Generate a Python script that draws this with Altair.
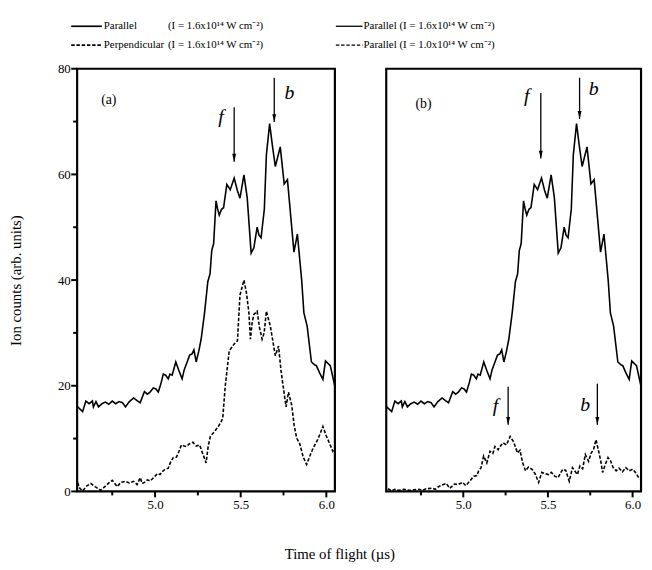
import altair as alt
import pandas as pd

# ---------------- data ----------------
t_par = [4.548, 4.577, 4.596, 4.615, 4.634, 4.640, 4.655, 4.670, 4.690, 4.710,
         4.730, 4.750, 4.770, 4.790, 4.810, 4.827, 4.850, 4.875, 4.895, 4.913,
         4.938, 4.955, 4.971, 4.990, 5.005, 5.019, 5.035, 5.048, 5.062, 5.077,
         5.087, 5.100, 5.121, 5.140, 5.158, 5.170, 5.183, 5.202, 5.215, 5.227,
         5.240, 5.255, 5.269, 5.289, 5.308, 5.321, 5.331, 5.342, 5.356, 5.365,
         5.375, 5.388, 5.400, 5.419, 5.439, 5.462, 5.480, 5.496, 5.519, 5.538,
         5.561, 5.577, 5.596, 5.607, 5.619, 5.638, 5.650, 5.669, 5.685, 5.702,
         5.731, 5.754, 5.773, 5.811, 5.831, 5.856, 5.869, 5.888, 5.913, 5.930,
         5.942, 5.960, 5.980, 5.995, 6.023, 6.050]
y_par = [16.0, 15.1, 17.1, 16.6, 17.1, 16.0, 17.0, 16.0, 16.6, 16.9,
         16.5, 17.1, 16.6, 17.0, 16.8, 16.0, 17.0, 17.7, 17.2, 16.8,
         18.9, 18.4, 18.8, 19.6, 19.4, 18.8, 20.5, 22.2, 22.0, 21.3,
         22.2, 22.0, 24.5, 22.8, 21.3, 23.0, 24.1, 25.8, 26.0, 26.8,
         24.5, 26.5, 28.8, 33.8, 39.7, 41.2, 45.6, 46.9, 55.0, 53.5,
         52.3, 53.4, 53.7, 58.1, 57.1, 59.3, 57.0, 55.5, 59.9, 55.6,
         45.1, 46.1, 50.0, 48.5, 48.0, 53.4, 63.7, 69.6, 65.5, 61.5,
         65.2, 58.2, 59.0, 45.3, 48.7, 40.0, 33.8, 31.3, 24.5, 24.0,
         23.8, 22.5, 21.2, 24.7, 23.8, 19.9]

t_perp = [4.548, 4.560, 4.577, 4.600, 4.625, 4.650, 4.683, 4.710, 4.730, 4.750,
          4.765, 4.779, 4.800, 4.827, 4.850, 4.875, 4.895, 4.913, 4.925, 4.938,
          4.955, 4.971, 4.985, 5.000, 5.015, 5.029, 5.050, 5.077, 5.090, 5.106,
          5.125, 5.140, 5.154, 5.170, 5.183, 5.200, 5.221, 5.240, 5.260, 5.298,
          5.310, 5.323, 5.346, 5.370, 5.384, 5.395, 5.410, 5.433, 5.462, 5.481,
          5.496, 5.519, 5.534, 5.548, 5.557, 5.567, 5.577, 5.596, 5.610, 5.625,
          5.637, 5.650, 5.673, 5.702, 5.721, 5.735, 5.750, 5.765, 5.779, 5.798,
          5.812, 5.827, 5.845, 5.865, 5.885, 5.905, 5.923, 5.945, 5.965, 5.980,
          6.000, 6.020, 6.038, 6.050]
y_perp = [1.7, 0.6, 0.1, 1.0, 1.5, 0.9, 0.2, 1.0, 1.6, 2.1,
          1.5, 0.9, 1.7, 1.9, 1.6, 1.9, 1.3, 2.6, 1.5, 1.7,
          2.2, 2.0, 2.4, 2.9, 3.4, 3.2, 4.0, 4.4, 5.5, 6.4,
          6.5, 7.6, 8.8, 8.6, 8.5, 9.0, 9.3, 8.6, 8.8, 5.4,
          8.5, 10.4, 11.3, 12.3, 13.1, 13.8, 20.0, 26.6, 27.9, 28.5,
          37.2, 40.0, 37.5, 33.8, 28.8, 32.0, 33.5, 34.1, 31.0, 28.8,
          30.0, 34.1, 31.3, 25.7, 27.5, 23.0, 19.4, 16.0, 18.8, 16.3,
          12.5, 10.1, 9.0, 6.5, 5.1, 6.8, 8.2, 9.5, 11.0, 12.3,
          10.5, 9.0, 7.6, 8.2]

t_low = [4.555, 4.576, 4.595, 4.620, 4.650, 4.680, 4.710, 4.738, 4.760, 4.780,
         4.815, 4.835, 4.853, 4.875, 4.900, 4.920, 4.935, 4.948, 4.970, 4.996,
         5.015, 5.040, 5.063, 5.080, 5.091, 5.105, 5.120, 5.139, 5.158, 5.175,
         5.187, 5.206, 5.220, 5.235, 5.255, 5.277, 5.295, 5.305, 5.320, 5.335,
         5.350, 5.368, 5.385, 5.406, 5.425, 5.445, 5.464, 5.480, 5.502, 5.520,
         5.540, 5.560, 5.575, 5.588, 5.605, 5.626, 5.645, 5.660, 5.674, 5.689,
         5.705, 5.721, 5.740, 5.755, 5.770, 5.784, 5.800, 5.812, 5.823, 5.840,
         5.855, 5.870, 5.885, 5.903, 5.920, 5.940, 5.960, 5.980, 6.000, 6.017,
         6.036, 6.045]
y_low = [0.5, 0.1, 0.4, 0.2, 0.4, 0.2, 0.3, 0.4, 0.2, 0.5,
         0.6, 0.4, 0.9, 1.2, 1.5, 0.6, 1.0, 1.4, 1.3, 1.7,
         1.1, 2.0, 2.9, 3.0, 3.9, 4.5, 6.7, 5.4, 7.6, 7.2,
         8.5, 7.9, 8.6, 9.2, 8.8, 10.4, 9.5, 8.7, 7.3, 7.8,
         5.5, 3.9, 4.6, 4.2, 3.3, 1.7, 3.6, 3.4, 3.2, 3.6,
         2.9, 2.6, 3.5, 4.2, 4.0, 1.9, 4.5, 3.8, 3.2, 4.8,
         4.3, 7.0, 5.7, 7.2, 8.0, 9.8, 7.5, 5.8, 3.6, 5.2,
         6.4, 5.8, 4.5, 3.9, 4.4, 3.7, 4.5, 3.9, 4.2, 3.6,
         2.6, 2.4]

arrows_a_t = [5.462, 5.696]
arrows_a_top = [72.7, 78.3]
arrows_a_tip = [62.4, 69.9]
labels_a_t = [5.385, 5.785, 4.73]
labels_a_y = [70.8, 75.3, 74.0]
labels_a_txt = ["f", "b", "(a)"]

arrows_b_t = [5.458, 5.687, 5.265, 5.792]
arrows_b_top = [75.4, 78.3, 19.8, 20.4]
arrows_b_tip = [63.0, 70.5, 12.6, 12.6]
labels_b_t = [5.375, 5.77, 5.19, 5.72, 4.765]
labels_b_y = [74.8, 76.2, 16.2, 16.4, 73.3]
labels_b_txt = ["f", "b", "f", "b", "(b)"]

x_major = [5.0, 5.5, 6.0]
x_minor = [4.75, 5.25, 5.75]
y_major = [0, 20, 40, 60, 80]
y_minor = [10, 30, 50, 70]
X_DOMAIN = [4.545, 6.05]
Y_DOMAIN = [0, 80]

leg_a_names = ["Parallel", "Perpendicular"]
leg_a_cond = ["(I = 1.6x10\u00b9\u2074 W cm\u207b\u00b2)", "(I = 1.6x10\u00b9\u2074 W cm\u207b\u00b2)"]
leg_b_names = ["Parallel (I = 1.6x10\u00b9\u2074 W cm\u207b\u00b2)",
               "Parallel (I = 1.0x10\u00b9\u2074 W cm\u207b\u00b2)"]

FONT = "Liberation Serif"
H = 428
DASH = [3.5, 1.8]
LEG_FS = 11
LW = 1.6
FRAME_W = 2.2
TICK_W = 2.0


def rule_value(**enc):
    return alt.Chart(pd.DataFrame({"k": [0]})).mark_rule(
        color="black", strokeWidth=FRAME_W).encode(**enc)


def panel(width, curves, arr_t, arr_top, arr_tip, lab_t, lab_y, lab_txt,
          show_y, legend):
    xs = alt.Scale(domain=X_DOMAIN, nice=False, zero=False)
    ys = alt.Scale(domain=Y_DOMAIN, nice=False, zero=False)
    xaxis = alt.Axis(values=x_major, format=".1f", title=None, grid=False,
                     domain=False, ticks=False, labelFont=FONT,
                     labelFontSize=13, labelColor="black", labelPadding=7)
    if show_y:
        yaxis = alt.Axis(values=y_major, title="Ion counts (arb. units)",
                         grid=False, domain=False, ticks=False,
                         labelFont=FONT, labelFontSize=13, labelColor="black",
                         labelPadding=7, titleFont=FONT, titleFontSize=15,
                         titleFontWeight="normal", titleColor="black",
                         titlePadding=34)
    else:
        yaxis = None
    layers = []
    first = True
    for tt, yy, dashed in curves:
        df = pd.DataFrame({"t": tt, "y": yy})
        mk = dict(color="black", strokeWidth=LW, clip=True)
        if dashed:
            mk["strokeDash"] = DASH
        if first:
            enc = dict(x=alt.X("t:Q", scale=xs, axis=xaxis),
                       y=alt.Y("y:Q", scale=ys, axis=yaxis))
        else:
            enc = dict(x=alt.X("t:Q"), y=alt.Y("y:Q"))
        layers.append(alt.Chart(df).mark_line(**mk).encode(**enc))
        first = False
    # frame
    layers.append(rule_value(x=alt.value(-1), x2=alt.value(width + 1), y=alt.value(0)))
    layers.append(rule_value(x=alt.value(-1), x2=alt.value(width + 1), y=alt.value(H)))
    layers.append(rule_value(y=alt.value(0), y2=alt.value(H), x=alt.value(0)))
    layers.append(rule_value(y=alt.value(0), y2=alt.value(H), x=alt.value(width)))
    # x ticks: major and minor
    layers.append(alt.Chart(pd.DataFrame({"t": x_major})).mark_rule(
        color="black", strokeWidth=TICK_W).encode(
        x=alt.X("t:Q"), y=alt.value(H), y2=alt.value(H + 6)))
    layers.append(alt.Chart(pd.DataFrame({"t": x_minor})).mark_rule(
        color="black", strokeWidth=TICK_W).encode(
        x=alt.X("t:Q"), y=alt.value(H), y2=alt.value(H + 4)))
    if show_y:
        layers.append(alt.Chart(pd.DataFrame({"y": y_major})).mark_rule(
            color="black", strokeWidth=TICK_W).encode(
            y=alt.Y("y:Q"), x=alt.value(0), x2=alt.value(-6)))
        layers.append(alt.Chart(pd.DataFrame({"y": y_minor})).mark_rule(
            color="black", strokeWidth=TICK_W).encode(
            y=alt.Y("y:Q"), x=alt.value(0), x2=alt.value(-4)))
    # arrows
    adf = pd.DataFrame({"t": arr_t, "y": arr_top, "tip": arr_tip})
    layers.append(alt.Chart(adf).mark_rule(color="black", strokeWidth=1.3).encode(
        x="t:Q", y="y:Q", y2="tip:Q"))
    layers.append(alt.Chart(adf).mark_point(
        shape="M-1,-4L1,-4L0,0Z", filled=True, size=16, color="black",
        opacity=1).encode(x="t:Q", y=alt.Y("tip:Q")))
    # labels
    ldf = pd.DataFrame({"t": lab_t, "y": lab_y, "txt": lab_txt})
    ldf["italic"] = ldf["txt"].isin(["f", "b"])
    layers.append(alt.Chart(ldf[ldf["italic"]]).mark_text(
        font=FONT, fontStyle="italic", fontSize=20, color="black").encode(
        x="t:Q", y="y:Q", text="txt:N"))
    layers.append(alt.Chart(ldf[~ldf["italic"]]).mark_text(
        font=FONT, fontSize=14, color="black").encode(
        x="t:Q", y="y:Q", text="txt:N"))
    layers.extend(legend)
    return alt.layer(*layers).properties(width=width, height=H)


def legend_a():
    out = []
    rows = [-43, -24]
    for i, yv in enumerate(rows):
        mk = dict(color="black", strokeWidth=1.7)
        if i == 1:
            mk["strokeDash"] = DASH
        out.append(alt.Chart(pd.DataFrame({"k": [0]})).mark_rule(**mk).encode(
            x=alt.value(-6), x2=alt.value(25), y=alt.value(yv)))
        out.append(alt.Chart(pd.DataFrame({"txt": [leg_a_names[i]]})).mark_text(
            font=FONT, fontSize=LEG_FS, align="left", baseline="middle",
            color="black").encode(x=alt.value(27), y=alt.value(yv), text="txt:N"))
        out.append(alt.Chart(pd.DataFrame({"txt": [leg_a_cond[i]]})).mark_text(
            font=FONT, fontSize=LEG_FS, align="left", baseline="middle",
            color="black").encode(x=alt.value(92), y=alt.value(yv), text="txt:N"))
    return out


def legend_b():
    out = []
    rows = [-43, -24]
    for i, yv in enumerate(rows):
        mk = dict(color="black", strokeWidth=1.3)
        if i == 1:
            mk["strokeDash"] = DASH
        out.append(alt.Chart(pd.DataFrame({"k": [0]})).mark_rule(**mk).encode(
            x=alt.value(-51), x2=alt.value(-24), y=alt.value(yv)))
        out.append(alt.Chart(pd.DataFrame({"txt": [leg_b_names[i]]})).mark_text(
            font=FONT, fontSize=LEG_FS, align="left", baseline="middle",
            color="black").encode(x=alt.value(-23), y=alt.value(yv), text="txt:N"))
    return out


pa = panel(261, [(t_par, y_par, False), (t_perp, y_perp, True)],
           arrows_a_t, arrows_a_top, arrows_a_tip,
           labels_a_t, labels_a_y, labels_a_txt, True, legend_a())
pb = panel(258, [(t_par, y_par, False), (t_low, y_low, True)],
           arrows_b_t, arrows_b_top, arrows_b_tip,
           labels_b_t, labels_b_y, labels_b_txt, False, legend_b())

chart = alt.hconcat(pa, pb, spacing=52, bounds="flush").properties(
    title=alt.TitleParams("Time of flight (\u00b5s)", orient="bottom",
                          anchor="middle", font=FONT, fontSize=15,
                          fontWeight="normal", color="black", offset=36,
                          dx=14),
    padding={"left": 1, "top": 9, "right": 0, "bottom": 0},
    background="white",
).configure_view(strokeWidth=0)

chart.save("out.html", embed_options={"renderer": "svg", "actions": False})
